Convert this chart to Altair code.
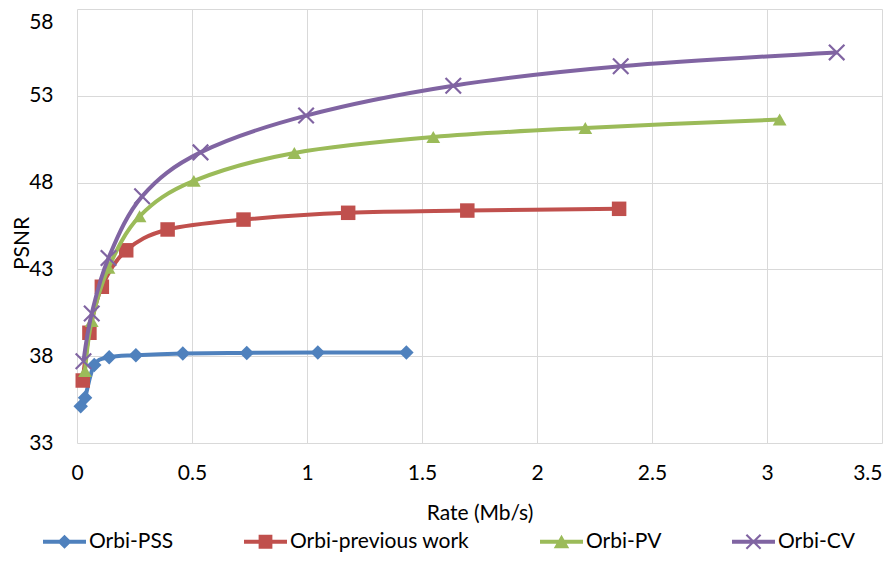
import altair as alt
import pandas as pd

series_names = ["Orbi-PSS", "Orbi-previous work", "Orbi-PV", "Orbi-CV"]
colors = ["#4F81BD", "#C0504D", "#9BBB59", "#8064A2"]

pss_rate = [0.016, 0.035, 0.075, 0.140, 0.256, 0.460, 0.738, 1.047, 1.432]
pss_psnr = [35.12, 35.61, 37.50, 37.94, 38.06, 38.16, 38.19, 38.21, 38.22]
prev_rate = [0.025, 0.054, 0.108, 0.214, 0.394, 0.724, 1.179, 1.697, 2.357]
prev_psnr = [36.60, 39.35, 42.00, 44.10, 45.30, 45.87, 46.26, 46.39, 46.49]
pv_rate = [0.035, 0.064, 0.137, 0.272, 0.508, 0.945, 1.549, 2.210, 3.055]
pv_psnr = [37.14, 40.02, 43.09, 46.06, 48.10, 49.71, 50.63, 51.15, 51.63]
cv_rate = [0.028, 0.064, 0.137, 0.283, 0.537, 0.996, 1.636, 2.364, 3.303]
cv_psnr = [37.71, 40.46, 43.66, 47.21, 49.74, 51.86, 53.58, 54.70, 55.50]

x_ticks = [0, 0.5, 1, 1.5, 2, 2.5, 3, 3.5]
y_ticks = [33, 38, 43, 48, 53, 58]

rates = [pss_rate, prev_rate, pv_rate, cv_rate]
psnrs = [pss_psnr, prev_psnr, pv_psnr, cv_psnr]

rows = []
for name, r, p in zip(series_names, rates, psnrs):
    for i, (a, b) in enumerate(zip(r, p)):
        rows.append({"series": name, "rate": a, "psnr": b, "idx": i})
df = pd.DataFrame(rows)

X_PATH = "M-0.9,-1.1L1.1,0.9L0.9,1.1L-1.1,-0.9Z M0.9,-1.1L1.1,-0.9L-0.9,1.1L-1.1,0.9Z"
marker_shapes = ["diamond", "square", "triangle-up", X_PATH]
marker_sizes = [210, 210, 190, 240]

LINE = "M-1,-0.09H1V0.09H-1Z "
legend_paths = [
    LINE + "M0,-0.33L0.33,0L0,0.33L-0.33,0Z",
    LINE + "M-0.32,-0.32H0.32V0.32H-0.32Z",
    LINE + "M0,-0.33L0.36,0.3H-0.36Z",
    LINE + "M-0.295,-0.365L0.365,0.295L0.295,0.365L-0.365,-0.295Z "
           "M0.295,-0.365L0.365,-0.295L-0.295,0.365L-0.365,0.295Z",
]

color_scale = alt.Scale(domain=series_names, range=colors)
x_enc = alt.X(
    "rate:Q",
    scale=alt.Scale(domain=[0, 3.5], nice=False, zero=False),
    axis=alt.Axis(values=x_ticks, format="~g", title="Rate (Mb/s)",
                  labelPadding=19, titlePadding=19,
                  labelAlign={"condition": {"test": "datum.value >= 3.5", "value": "right"},
                              "value": "center"}),
)
y_enc = alt.Y(
    "psnr:Q",
    scale=alt.Scale(domain=[33, 58], nice=False, zero=False),
    axis=alt.Axis(values=y_ticks, title="PSNR", labelPadding=24,
                  titleX=-55, titleY=234, titleBaseline="middle",
                  labelBaseline={"condition": {"test": "datum.value >= 58", "value": "top"},
                                 "value": "middle"},
                  labelOffset={"condition": {"test": "datum.value >= 58", "value": 2},
                               "value": 0}),
)

base = alt.Chart(df)

leg = alt.Legend(
    title=None, orient="none", legendX=-34, legendY=511, direction="horizontal",
    columns=4, columnPadding=70, symbolSize=1849, labelOffset=3, labelLimit=400,
    labelFont="Lato", labelFontSize=21, labelColor="#000000", padding=0,
    symbolStrokeWidth=0, symbolOpacity=1,
)

legend_layer = base.mark_point(filled=True, opacity=0).encode(
    x=x_enc, y=y_enc,
    color=alt.Color("series:N", scale=color_scale, legend=leg),
    shape=alt.Shape("series:N", scale=alt.Scale(domain=series_names, range=legend_paths), legend=leg),
)

layers = [legend_layer]
for name, shp, sz in zip(series_names, marker_shapes, marker_sizes):
    sub = base.transform_filter(alt.datum.series == name)
    line = sub.mark_line(interpolate="cardinal", strokeWidth=4).encode(
        x=x_enc, y=y_enc, order="idx:Q",
        color=alt.Color("series:N", scale=color_scale, legend=None),
    )
    pts = sub.mark_point(filled=True, opacity=1, shape=shp, size=sz).encode(
        x=x_enc, y=y_enc,
        color=alt.Color("series:N", scale=color_scale, legend=None),
    )
    layers += [line, pts]

chart = alt.layer(*layers).properties(
    width=805, height=434,
    padding={"left": 69, "top": 1, "right": 4, "bottom": 110},
    autosize=alt.AutoSizeParams(type="none"),
).configure_view(stroke="transparent").configure_axis(
    grid=True, gridColor="#D9D9D9", gridWidth=1, domain=False, ticks=False, tickSize=0,
    labelFont="Lato", labelFontSize=21, labelColor="#000000",
    titleFont="Lato", titleFontSize=21, titleFontWeight="normal", titleColor="#000000",
)

chart.save("out.html", embed_options={"renderer": "svg", "actions": False})
